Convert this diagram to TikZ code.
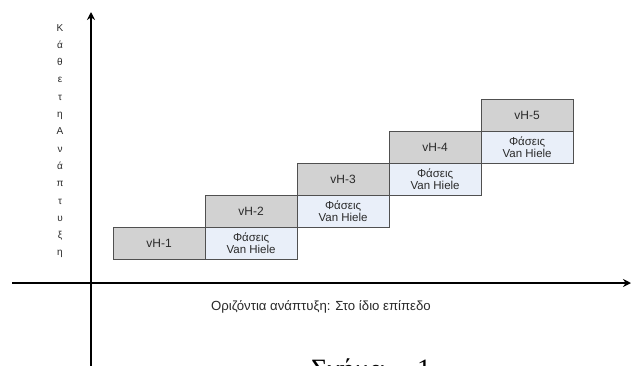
\documentclass[tikz,border=0pt]{standalone}
\usepackage{fontspec}
\setmainfont{Liberation Sans}
\newfontfamily\capfont{Liberation Serif}
\usetikzlibrary{arrows.meta}
\definecolor{boxborder}{HTML}{505050}
\definecolor{lvlgray}{HTML}{D2D2D2}
\definecolor{phaseblue}{HTML}{E9EFF9}
\definecolor{txtgray}{HTML}{2A2A2A}
\begin{document}
\begin{tikzpicture}[x=1pt,y=-1pt,
  axis/.style={line width=2.4pt, -{Stealth[length=8pt,width=8pt]}},
  lvl/.style={draw=boxborder, fill=lvlgray, line width=0.8pt, minimum width=92pt, minimum height=32pt, inner sep=0pt, anchor=north west, text=txtgray, font=\fontsize{12}{13}\selectfont},
  phase/.style={draw=boxborder, fill=phaseblue, line width=0.8pt, minimum width=92pt, minimum height=32pt, inner sep=0pt, anchor=north west, align=center, text=txtgray, font=\fontsize{11.5}{11.8}\selectfont}]
\useasboundingbox (0,0) rectangle (631,365);
\clip (0,0) rectangle (631,365);
\fill[white] (0,0) rectangle (631,365);
% axes
\coordinate (ybot) at (91,368);
\coordinate (ytop) at (91,12);
\coordinate (xleft) at (12,283);
\coordinate (xright) at (631,283);
\draw[axis] (ybot) -- (ytop);
\draw[axis] (xleft) -- (xright);
% boxes
\node[lvl] (g1) at (112.7,227) {vH-1};
\node[lvl] (g2) at (204.7,195) {vH-2};
\node[phase] (p2) at (204.7,227) {Φάσεις\\Van Hiele};
\node[lvl] (g3) at (296.7,163) {vH-3};
\node[phase] (p3) at (296.7,195) {Φάσεις\\Van Hiele};
\node[lvl] (g4) at (388.7,131) {vH-4};
\node[phase] (p4) at (388.7,163) {Φάσεις\\Van Hiele};
\node[lvl] (g5) at (480.7,99) {vH-5};
\node[phase] (p5) at (480.7,131) {Φάσεις\\Van Hiele};
% labels
\node[anchor=north, align=center, inner sep=0pt, text=txtgray, font=\fontsize{10}{17.3}\selectfont] (vlabel) at (60,24)
  {Κ\\ά\\θ\\ε\\τ\\η\\Α\\ν\\ά\\π\\τ\\υ\\ξ\\η};
\node[text=txtgray, inner sep=0pt, font=\fontsize{13.2}{14}\selectfont] (hlabel) at (321,307) {Οριζόντια ανάπτυξη: Στο ίδιο επίπεδο};
\node[anchor=base west, inner sep=0pt, font=\capfont\fontsize{28}{30}\selectfont] (caption) at (311,378) {Σχήμα\hspace{33pt}1};
\end{tikzpicture}
\end{document}
